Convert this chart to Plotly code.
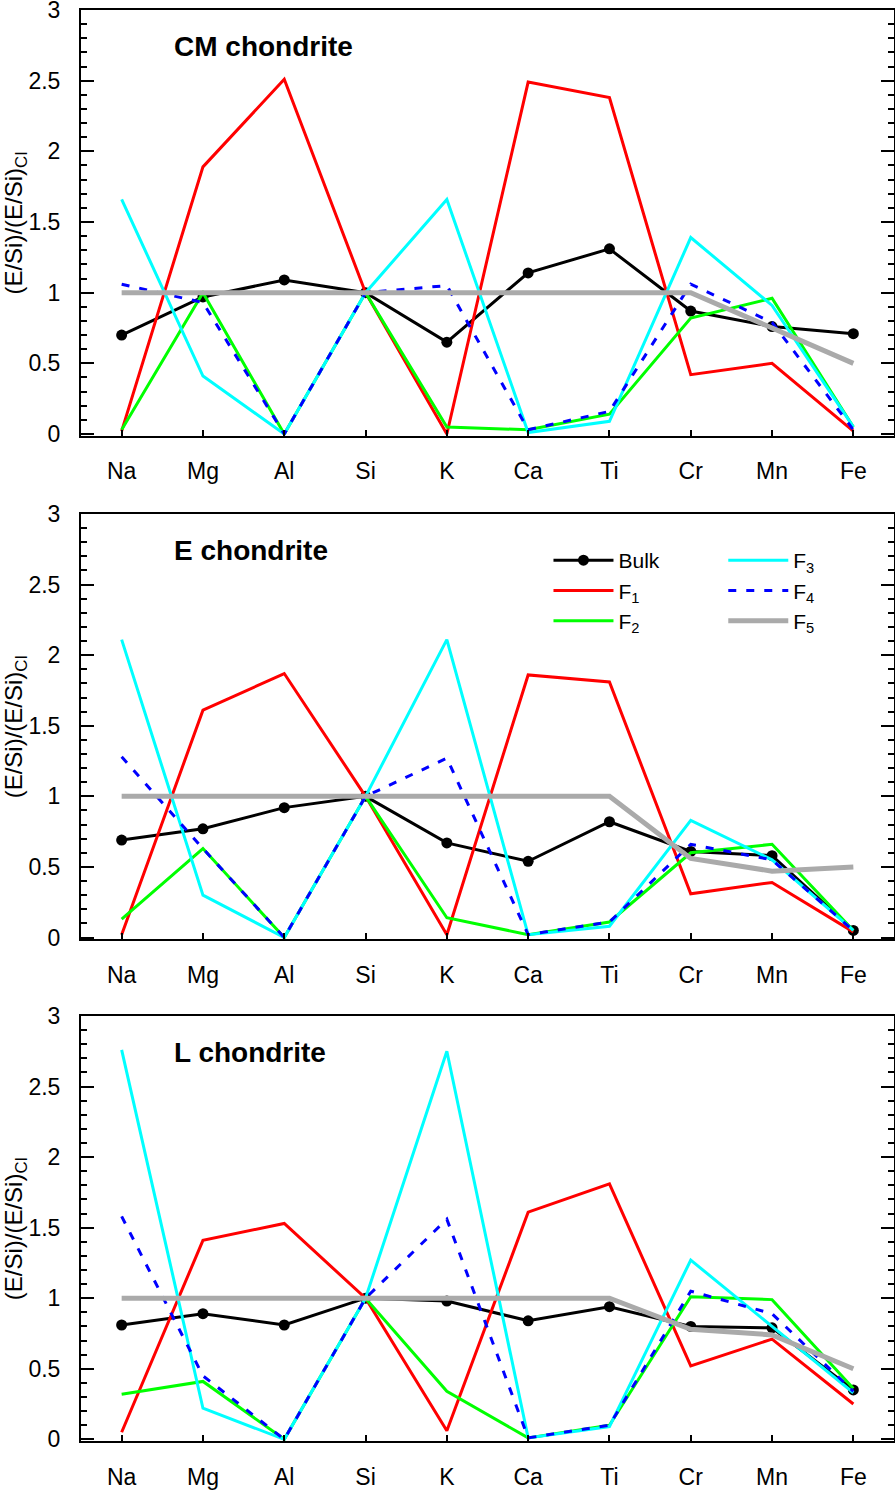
import plotly.graph_objects as go

# ---------------- data ----------------
elements = ["Na", "Mg", "Al", "Si", "K", "Ca", "Ti", "Cr", "Mn", "Fe"]
panel_titles = ["CM chondrite", "E chondrite", "L chondrite"]
series_names = ["Bulk", "F<sub>1</sub>", "F<sub>2</sub>", "F<sub>3</sub>", "F<sub>4</sub>", "F<sub>5</sub>"]
y_ticks = [0, 0.5, 1, 1.5, 2, 2.5, 3]

# CM chondrite
cm_bulk = [0.70, 0.97, 1.09, 1.00, 0.65, 1.14, 1.31, 0.87, 0.76, 0.71]
cm_f1 = [0.02, 1.89, 2.51, 1.00, 0.00, 2.49, 2.38, 0.42, 0.50, 0.02]
cm_f2 = [0.03, 1.00, 0.00, 1.00, 0.05, 0.03, 0.14, 0.82, 0.96, 0.05]
cm_f3 = [1.66, 0.41, 0.00, 1.00, 1.66, 0.01, 0.09, 1.39, 0.91, 0.05]
cm_f4 = [1.06, 0.93, 0.00, 1.00, 1.05, 0.03, 0.16, 1.06, 0.79, 0.03]
cm_f5 = [1.00, 1.00, 1.00, 1.00, 1.00, 1.00, 1.00, 1.00, 0.75, 0.50]

# E chondrite
e_bulk = [0.69, 0.77, 0.92, 1.00, 0.67, 0.54, 0.82, 0.61, 0.58, 0.05]
e_f1 = [0.02, 1.61, 1.87, 1.00, 0.02, 1.86, 1.81, 0.31, 0.39, 0.04]
e_f2 = [0.13, 0.63, 0.00, 1.00, 0.14, 0.02, 0.11, 0.60, 0.66, 0.05]
e_f3 = [2.11, 0.30, 0.00, 1.00, 2.11, 0.02, 0.08, 0.83, 0.55, 0.05]
e_f4 = [1.28, 0.63, 0.00, 1.00, 1.27, 0.02, 0.11, 0.66, 0.55, 0.05]
e_f5 = [1.00, 1.00, 1.00, 1.00, 1.00, 1.00, 1.00, 0.56, 0.47, 0.50]

# L chondrite
l_bulk = [0.81, 0.89, 0.81, 1.00, 0.98, 0.84, 0.94, 0.80, 0.79, 0.35]
l_f1 = [0.05, 1.41, 1.53, 1.00, 0.06, 1.61, 1.81, 0.52, 0.71, 0.25]
l_f2 = [0.32, 0.41, 0.00, 1.00, 0.34, 0.01, 0.10, 1.01, 0.99, 0.36]
l_f3 = [2.76, 0.22, 0.00, 1.00, 2.75, 0.01, 0.09, 1.27, 0.80, 0.33]
l_f4 = [1.58, 0.45, 0.00, 1.00, 1.56, 0.01, 0.10, 1.05, 0.89, 0.34]
l_f5 = [1.00, 1.00, 1.00, 1.00, 1.00, 1.00, 1.00, 0.78, 0.74, 0.50]

panels = [
    [cm_bulk, cm_f1, cm_f2, cm_f3, cm_f4, cm_f5],
    [e_bulk, e_f1, e_f2, e_f3, e_f4, e_f5],
    [l_bulk, l_f1, l_f2, l_f3, l_f4, l_f5],
]

# ---------------- styles ----------------
FONT = "Liberation Sans, Arial, Helvetica, sans-serif"
styles = [
    dict(mode="lines+markers", line=dict(color="black", width=3),
         marker=dict(symbol="circle", size=11, color="black")),
    dict(mode="lines", line=dict(color="#ff0000", width=3)),
    dict(mode="lines", line=dict(color="#00ff00", width=3)),
    dict(mode="lines", line=dict(color="#00ffff", width=3)),
    dict(mode="lines", line=dict(color="#0000ff", width=3, dash="8px,10px")),
    dict(mode="lines", line=dict(color="#aaaaaa", width=5)),
]
legend_of = ["legend", "legend", "legend", "legend2", "legend2", "legend2"]

W, H = 895, 1494
ML, MR, MT, MB = 81, 1, 10, 53
plot_h = H - MT - MB


def frac(y_abs):
    # page y (pixel) -> paper fraction
    return (H - MB - y_abs) / plot_h


domains = [[frac(435.7), frac(10)], [frac(939.2), frac(514)], [frac(1441), frac(1016)]]

fig = go.Figure()
x_idx = list(range(len(elements)))

for p, series in enumerate(panels):
    xa = "x" if p == 0 else f"x{p+1}"
    ya = "y" if p == 0 else f"y{p+1}"
    for s, vals in enumerate(series):
        fig.add_trace(go.Scatter(
            x=x_idx, y=vals, name=series_names[s], xaxis=xa, yaxis=ya,
            showlegend=(p == 1), legend=legend_of[s], **styles[s]))

layout_axes = {}
for p in range(3):
    xkey = "xaxis" if p == 0 else f"xaxis{p+1}"
    ykey = "yaxis" if p == 0 else f"yaxis{p+1}"
    ya = "y" if p == 0 else f"y{p+1}"
    xa = "x" if p == 0 else f"x{p+1}"
    layout_axes[xkey] = dict(
        domain=[0, 1], anchor=ya, range=[-0.5, 9.5],
        tickmode="array", tickvals=x_idx, ticktext=elements,
        ticks="inside", ticklen=6, tickwidth=2, tickcolor="black",
        showline=True, linewidth=2, linecolor="black", mirror=True,
        showgrid=False, zeroline=False, automargin=False,
        ticklabelstandoff=14, ticklabeloverflow="allow",
        tickfont=dict(family=FONT, size=23, color="black"),
    )
    layout_axes[ykey] = dict(
        domain=domains[p], anchor=xa, range=[-0.012, 3.0],
        tickmode="array", tickvals=y_ticks,
        ticktext=[("%g" % v) for v in y_ticks],
        ticks="inside", ticklen=13, tickwidth=2, tickcolor="black",
        minor=dict(dtick=0.1, tick0=0, ticks="inside", ticklen=6,
                   tickwidth=2, tickcolor="black", showgrid=False),
        showline=True, linewidth=2, linecolor="black", mirror="ticks",
        showgrid=False, zeroline=False, automargin=False,
        ticklabelstandoff=14, ticklabeloverflow="allow",
        tickfont=dict(family=FONT, size=23, color="black"),
        title=dict(text="(E/Si)/(E/Si)<sub>CI</sub>", standoff=0,
                   font=dict(family=FONT, size=24, color="black")),
    )

annotations = []
for p in range(3):
    xa = "x" if p == 0 else f"x{p+1}"
    ya = "y" if p == 0 else f"y{p+1}"
    annotations.append(dict(
        text="<b>" + panel_titles[p] + "</b>", xref=f"{xa} domain", yref=f"{ya} domain",
        x=0.112, y=0.915, xanchor="left", yanchor="middle", showarrow=False,
        font=dict(family=FONT, size=28, color="black")))

fig.update_layout(
    width=W, height=H,
    margin=dict(l=ML, r=MR, t=MT, b=MB),
    paper_bgcolor="white", plot_bgcolor="white",
    font=dict(family=FONT, size=23, color="black"),
    annotations=annotations,
    legend=dict(x=0.575, y=frac(540), xanchor="left", yanchor="top",
                bgcolor="rgba(0,0,0,0)", itemwidth=60, tracegroupgap=0,
                font=dict(family=FONT, size=21, color="black")),
    legend2=dict(x=0.79, y=frac(540), xanchor="left", yanchor="top",
                 bgcolor="rgba(0,0,0,0)", itemwidth=60, tracegroupgap=0,
                 font=dict(family=FONT, size=21, color="black")),
    **layout_axes,
)

# remove the browser's default page margin so the figure fills the window exactly
fig.write_html(
    "out.html",
    config={"displayModeBar": False},
    post_script="document.body.style.margin='0';document.body.style.overflow='hidden';",
)
